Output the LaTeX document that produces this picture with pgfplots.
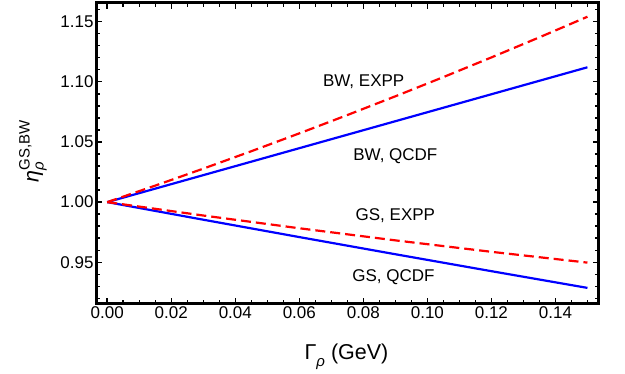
\documentclass[border=0pt]{standalone}
\usepackage{pgfplots}
\pgfplotsset{compat=1.18}
\usepackage{fontspec}
\setmainfont{Liberation Sans}
\begin{document}
\begin{tikzpicture}[x=1pt,y=1pt]
\useasboundingbox (-97,-70) rectangle (528,303);
\begin{axis}[at={(0,0)}, anchor=south west, scale only axis,
  width=501pt, height=300pt,
  xmin=-0.0032, xmax=0.1533, ymin=0.9162, ymax=1.1654,
  xtick={0,0.02,0.04,0.06,0.08,0.10,0.12,0.14},
  ytick={0.95,1.00,1.05,1.10,1.15},
  minor xtick={0.005,0.01,0.015,0.025,0.03,0.035,0.045,0.05,0.055,0.065,0.07,0.075,0.085,0.09,0.095,0.105,0.11,0.115,0.125,0.13,0.135,0.145,0.15},
  minor ytick={0.92,0.93,0.94,0.96,0.97,0.98,0.99,1.01,1.02,1.03,1.04,1.06,1.07,1.08,1.09,1.11,1.12,1.13,1.14,1.16},
  tick align=inside,
  major tick length=5.5pt, minor tick length=3.5pt,
  every tick/.style={black, line width=1.5pt},
  axis line style={line width=3pt},
  xticklabel style={/pgf/number format/.cd, fixed, fixed zerofill, precision=2},
  yticklabel style={/pgf/number format/.cd, fixed, fixed zerofill, precision=2},
  /pgf/number format/assume math mode=true,
  tick label style={font=\fontsize{17}{20}\selectfont},
  scaled ticks=false,
  xlabel={Γ\raisebox{-0.35em}{\fontsize{15}{15}\selectfont\itshape ρ} (GeV)},
  xlabel style={at={(axis description cs:0.498,-0.1867)}, anchor=base, font=\fontsize{21.5}{24}\selectfont},
  ylabel={$\mbox{\fontsize{21.5}{24}\selectfont\itshape η}^{\mbox{\fontsize{15}{15}\selectfont GS,BW}}_{\mbox{\fontsize{15}{15}\selectfont\itshape ρ}}$},
  ylabel style={at={(axis description cs:-0.128,0.507)}, anchor=center, rotate=0},
  clip=false,
]
\addplot[blue, line width=2.2pt] coordinates {(0,1) (0.03,1.0224) (0.06,1.0448) (0.09,1.0672) (0.12,1.0896) (0.15,1.1120)};
\addplot[blue, line width=2.2pt] coordinates {(0,1) (0.03,0.98539) (0.06,0.97096) (0.09,0.95671) (0.12,0.94264) (0.15,0.92875)};
\addplot[red, line width=2.2pt, dash pattern=on 10pt off 5pt] coordinates {(0,1) (0.015,1.01372) (0.03,1.02781) (0.045,1.04227) (0.06,1.05711) (0.075,1.07232) (0.09,1.08790) (0.105,1.10386) (0.12,1.12019) (0.135,1.13690) (0.15,1.15398)};
\addplot[red, line width=2.2pt, dash pattern=on 10pt off 5pt] coordinates {(0,1) (0.03,0.98887) (0.06,0.97828) (0.09,0.96823) (0.12,0.95872) (0.15,0.94975)};
\node[font=\fontsize{17}{20}\selectfont] at (axis cs:0.0801,1.100) {BW, EXPP};
\node[font=\fontsize{17}{20}\selectfont] at (axis cs:0.09,1.0385) {BW, QCDF};
\node[font=\fontsize{17}{20}\selectfont] at (axis cs:0.09,0.9887) {GS, EXPP};
\node[font=\fontsize{17}{20}\selectfont] at (axis cs:0.0894,0.9378) {GS, QCDF};
\end{axis}
\end{tikzpicture}
\end{document}
